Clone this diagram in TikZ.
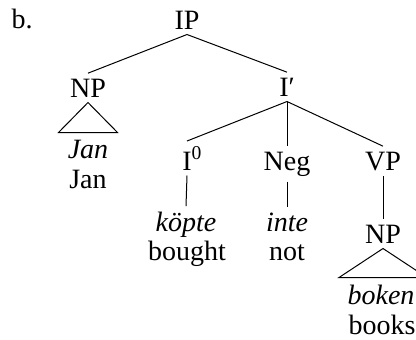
\documentclass[tikz,border=0pt]{standalone}
\usepackage{fontspec}
\setmainfont{Liberation Serif}
\usetikzlibrary{positioning, calc}

\begin{document}
\begin{tikzpicture}[x=0.5pt, y=-0.5pt,
    every node/.style={font=\fontsize{14}{15}\selectfont, inner sep=2.5pt, anchor=base},
    every path/.style={line width=0.5pt},
    word/.style={font=\fontsize{14}{15}\selectfont\itshape},
]
\useasboundingbox (0,0) rectangle (416,339);

% Example label and root
\node (label) at (22,28) {b.};
\node (ip) at (187,29) {IP};

% Subject and I-bar
\node (np) at (88,97) {NP};
\node (ibar) at (287,96) {I′};

% Heads under I-bar (superscript kept out of the width)
\node (infl) at (187,170) {I\rlap{\textsuperscript{0}}};
\node (neg) at (287,170) {Neg};
\node (vp) at (383,170) {VP};
\node (obj) at (383,243) {NP};

% Words and glosses
\node (jan) [word] at (88,158) {Jan};
\node (jangloss) at (88,188) {Jan};
\node (kopte) [word] at (186,231) {köpte};
\node (bought) at (187,260) {bought};
\node (inte) [word] at (287,231) {inte};
\node (not) at (287,260) {not};
\node (boken) [word] at (381,304) {boken};
\node (books) at (382,334) {books};

% Branches
\draw (ip.south) -- (np.north);
\draw (ip.south) -- (ibar.north);
\draw (ibar.south) -- (infl.north);
\draw (ibar.south) -- (neg.north);
\draw (ibar.south) -- (vp.north);
\draw (vp.south) -- (obj.north);
\draw (infl.south) -- (kopte.north);
\draw (neg.south) -- (inte.north);

% Triangles over unanalysed phrases
\draw (np.south) -- ($(np.south)+(-29.5,30)$) -- ($(np.south)+(29.5,30)$) -- cycle;
\draw (obj.south) -- ($(obj.south)+(-44,29)$) -- ($(obj.south)+(44,29)$) -- cycle;

\end{tikzpicture}
\end{document}
